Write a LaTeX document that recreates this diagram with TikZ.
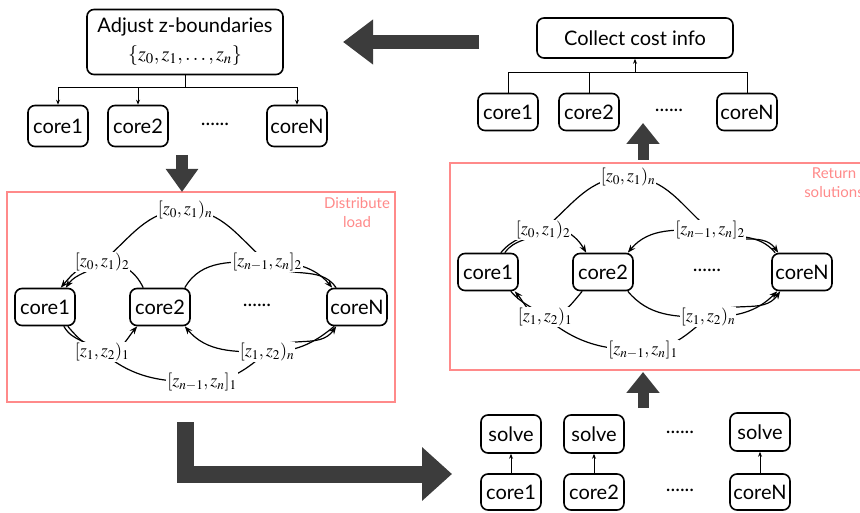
\documentclass[tikz,border=0pt]{standalone}
\usepackage{mathptmx}
\usepackage{fontspec}
\setmainfont{Lato}
\usetikzlibrary{positioning,arrows.meta,backgrounds}

\definecolor{stagered}{HTML}{FF8A8A}
\definecolor{fatgray}{HTML}{3C3C3C}

\tikzset{
  core/.style={draw, line width=1.6pt, rounded corners=7pt, minimum width=60pt,
    minimum height=38pt, inner sep=2pt, font=\fontsize{20}{22}\selectfont},
  etc/.style={font=\fontsize{20}{22}\selectfont},
  part/.style={fill=white, inner sep=1pt, font=\fontsize{18}{20}\selectfont},
  link/.style={line width=1.2pt, -{Stealth[length=8pt,width=6pt]}},
  tree/.style={line width=0.8pt},
  treearrow/.style={tree, -{Stealth[length=5pt,width=4pt]}},
  stage/.style={draw=stagered, line width=1.6pt},
  stagename/.style={text=stagered, align=center, font=\fontsize{15}{19}\selectfont},
  fat/.style={draw=fatgray, line width=14pt, line join=miter,
    -{Triangle[length=30pt,width=43pt]}},
}

\begin{document}
\begin{tikzpicture}[x=1pt,y=1pt]
\useasboundingbox (0,0) rectangle (860,512);

% --- adjust the boundaries, send them out
\node[core, minimum width=196pt, minimum height=65pt, align=center] (adj) at (185,470)
  {Adjust z-boundaries\\[6pt]$\{z_0, z_1, \ldots, z_n\}$};
\node[core, minimum height=41pt] (a1) at (58,386) {core1};
\node[core, minimum height=41pt] (a2) at (138,386) {core2};
\node[etc] (a3) at (215,388) {......};
\node[core, minimum height=41pt] (aN) at (297,386) {coreN};
\draw[tree] (adj.south) -- ++(0,-12) coordinate (adjfork);
\foreach \c in {a1,a2,aN}
  \draw[treearrow] (adjfork) -| (\c.north);

% --- collect the cost info
\node[core, minimum width=196pt, minimum height=40pt] (collect) at (635,474) {Collect cost info};
\node[core, minimum height=37pt] (b1) at (508,400) {core1};
\node[core, minimum height=37pt] (b2) at (589,400) {core2};
\node[etc] (b3) at (669,402) {......};
\node[core, minimum height=37pt] (bN) at (747,400) {coreN};
\coordinate (collectfork) at (635,440);
\foreach \c in {b1,b2,bN}
  \draw[tree] (\c.north) |- (collectfork);
\draw[treearrow] (collectfork) -- (collect.south);

% --- distribute load
\draw[stage] (7,110) rectangle (395,320);
\node[stagename] (dl) at (357,299) {Distribute\\load};
\node[core, minimum height=37pt] (c1) at (45,205) {core1};
\node[core, minimum height=37pt] (c2) at (160,205) {core2};
\node[etc] (c3) at (257,207) {......};
\node[core, minimum height=37pt] (cN) at (357,205) {coreN};
\node[part] (ln) at (185,302) {$[z_0,z_1)_n$};
\node[part] (l2a) at (102,250) {$[z_0,z_1)_2$};
\node[part] (l2b) at (267,250) {$[z_{n-1},z_n]_2$};
\node[part] (l1a) at (102,160) {$[z_1,z_2)_1$};
\node[part] (l1b) at (267,160) {$[z_1,z_2)_n$};
\node[part] (lN1) at (202,130) {$[z_{n-1},z_n]_1$};
\begin{scope}[on background layer]
  \draw[link] ([xshift=10pt]cN.north west) to[out=125,in=-40] (l2b.center)
    to[out=140,in=0] (ln.center) to[out=180,in=40] (l2a.center)
    to[out=220,in=55] ([xshift=-10pt]c1.north east);
  \draw[link] ([xshift=14pt]c2.north west) to[out=115,in=0] (l2a.center)
    to[out=180,in=50] ([xshift=-15pt]c1.north east);
  \draw[link] ([xshift=-6pt]c2.north east) to[out=60,in=180] (l2b.center)
    to[out=0,in=130] ([xshift=6pt]cN.north west);
  \draw[link] ([xshift=-8pt]c1.south east) to[out=-50,in=160] (l1a.center)
    to[out=-20,in=-130] ([xshift=8pt]c2.south west);
  \draw[link] ([xshift=8pt]cN.south west) to[out=-140,in=0] (l1b.center)
    to[out=180,in=-50] ([xshift=-6pt]c2.south east);
  \draw[link] ([xshift=-12pt]c1.south east) to[out=-60,in=140] (l1a.center)
    to[out=-40,in=180] (lN1.center) to[out=0,in=-140] (l1b.center)
    to[out=40,in=-125] ([xshift=10pt]cN.south west);
\end{scope}

% --- return solutions
\draw[stage] (450,142) rectangle (875,349);
\node[stagename] (rs) at (834,329) {Return\\solutions};
\node[core, minimum height=37pt] (d1) at (488,240) {core1};
\node[core, minimum height=37pt] (d2) at (603,240) {core2};
\node[etc] (d3) at (707,242) {......};
\node[core, minimum height=37pt] (dN) at (802,240) {coreN};
\node[part] (rn) at (628,335) {$[z_0,z_1)_n$};
\node[part] (r2a) at (543,282) {$[z_0,z_1)_2$};
\node[part] (r2b) at (710,282) {$[z_{n-1},z_n]_2$};
\node[part] (r1a) at (545,195) {$[z_1,z_2)_1$};
\node[part] (r1b) at (708,195) {$[z_1,z_2)_n$};
\node[part] (rN1) at (643,162) {$[z_{n-1},z_n]_1$};
\begin{scope}[on background layer]
  \draw[link] ([xshift=-14pt]d1.north east) to[out=55,in=-140] (r2a.center)
    to[out=40,in=180] (rn.center) to[out=0,in=140] (r2b.center)
    to[out=-40,in=125] ([xshift=7pt]dN.north west);
  \draw[link] ([xshift=-18pt]d1.north east) to[out=50,in=200] (r2a.center)
    to[out=20,in=120] ([xshift=14pt]d2.north west);
  \draw[link] ([xshift=4pt]dN.north west) to[out=130,in=-20] (r2b.center)
    to[out=180,in=50] ([xshift=-6pt]d2.north east);
  \draw[link] ([xshift=10pt]d2.south west) to[out=-130,in=0] (r1a.center)
    to[out=180,in=-50] ([xshift=-4pt]d1.south east);
  \draw[link] ([xshift=-6pt]d2.south east) to[out=-50,in=180] (r1b.center)
    to[out=0,in=-135] ([xshift=6pt]dN.south west);
  \draw[link] ([xshift=-8pt]d1.south east) to[out=-50,in=140] (r1a.center)
    to[out=-40,in=180] (rN1.center) to[out=0,in=-140] (r1b.center)
    to[out=40,in=-125] ([xshift=9pt]dN.south west);
\end{scope}

% --- every core solves
\node[core] (e1) at (511,78) {solve};
\node[core] (e2) at (594,78) {solve};
\node[etc] (e3) at (680,80) {......};
\node[core] (eN) at (760,80) {solve};
\node[core, minimum height=36pt] (f1) at (511,20) {core1};
\node[core, minimum height=36pt] (f2) at (594,20) {core2};
\node[etc] (f3) at (680,22) {......};
\node[core, minimum height=36pt] (fN) at (760,20) {coreN};
\foreach \c in {1,2,N}
  \draw[treearrow] (f\c.north) -- (e\c.south);

% --- big arrows between the steps
\coordinate (backfrom) at (479,470);
\coordinate (backto) at (343,470);
\coordinate (downfrom) at (182,357);
\coordinate (downto) at (182,320);
\coordinate (solvefrom) at (185,90);
\coordinate (solveto) at (452,38);
\coordinate (upfrom) at (643,104);
\coordinate (upto) at (643,140);
\coordinate (topfrom) at (643,352);
\coordinate (topto) at (643,389);
\draw[fat] (backfrom) -- (backto);
\draw[fat, line width=12pt, -{Triangle[length=23pt,width=31pt]}] (downfrom) -- (downto);
\draw[fat, line width=17pt, -{Triangle[length=30pt,width=52pt]}] (solvefrom) |- (solveto);
\draw[fat, line width=11pt, -{Triangle[length=21pt,width=32pt]}] (upfrom) -- (upto);
\draw[fat, line width=11pt, -{Triangle[length=21pt,width=32pt]}] (topfrom) -- (topto);
\end{tikzpicture}
\end{document}
